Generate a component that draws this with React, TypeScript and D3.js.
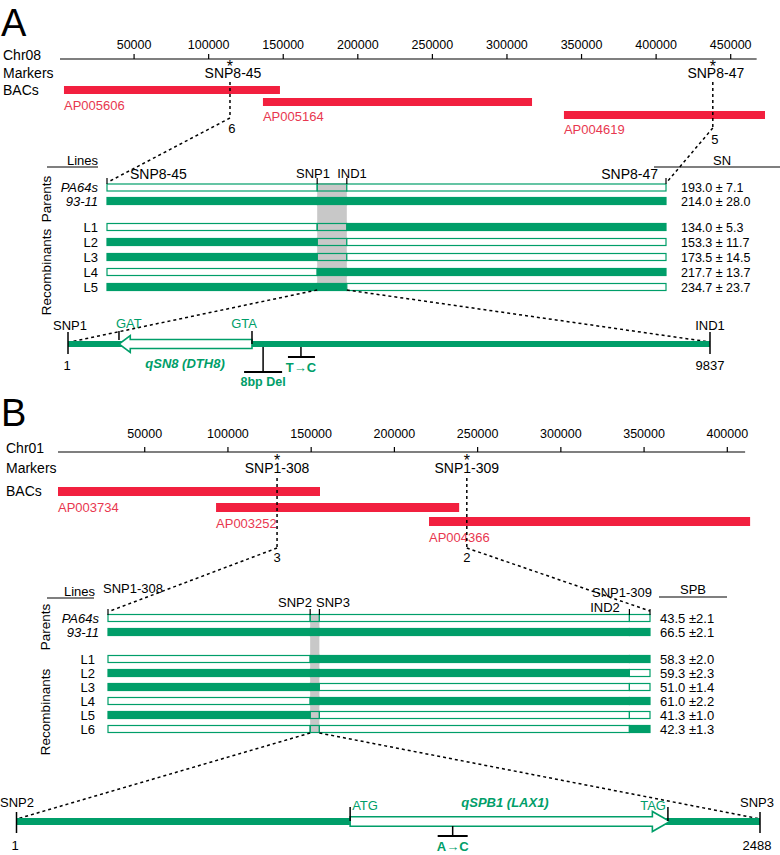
import React from 'react';
import * as d3 from 'd3';

const FONT = 'Arial, "Liberation Sans", Helvetica, sans-serif';
const GREEN = '#009e69';
const RED = '#f2203f';
const RED_TEXT = '#e8374f';
const GRAY = '#c8c8c8';

// ---------------- Panel A data ----------------
const chromA = 'Chr08';
const ticksA = [50000, 100000, 150000, 200000, 250000, 300000, 350000, 400000, 450000];
const axisExtentA = [300, 467400];
const bacNamesA = ['AP005606', 'AP005164', 'AP004619'];
const bacStartsA = [3000, 136400, 338200];
const bacEndsA = [147800, 316800, 473000];
const markerNamesA = ['SNP8-45', 'SNP8-47'];
const markerPosA = [114300, 438000];
const markerRecA = ['6', '5'];
const lineNamesA = ['PA64s', '93-11', 'L1', 'L2', 'L3', 'L4', 'L5'];
const fineMarkersA = ['SNP8-45', 'SNP1', 'IND1', 'SNP8-47'];
const fineMarkerPosA = [0, 37.6, 42.9, 100];
const genotypesA = [
  ['o', 'o', 'o'],
  ['f', 'f', 'f'],
  ['o', 'o', 'f'],
  ['f', 'o', 'o'],
  ['f', 'o', 'o'],
  ['o', 'f', 'f'],
  ['f', 'f', 'o'],
];
const meansA = ['193.0', '214.0', '134.0', '153.3', '173.5', '217.7', '234.7'];
const sdsA = ['7.1', '28.0', '5.3', '11.7', '14.5', '13.7', '23.7'];
const traitA = 'SN';
const geneLenA = 9837;
const geneNameA = 'qSN8 (DTH8)';
const codonNamesA = ['GAT', 'GTA'];
const codonPosA = [782, 2820];
const arrowHeadBaseA = 955;
const mutationNamesA = ['8bp Del', 'T→C'];
const mutationPosA = [2990, 3570];

// ---------------- Panel B data ----------------
const chromB = 'Chr01';
const ticksB = [50000, 100000, 150000, 200000, 250000, 300000, 350000, 400000];
const axisExtentB = [-2100, 410700];
const bacNamesB = ['AP003734', 'AP003252', 'AP004366'];
const bacStartsB = [-2100, 92850, 220800];
const bacEndsB = [155300, 238900, 413700];
const markerNamesB = ['SNP1-308', 'SNP1-309'];
const markerPosB = [129500, 243500];
const markerRecB = ['3', '2'];
const lineNamesB = ['PA64s', '93-11', 'L1', 'L2', 'L3', 'L4', 'L5', 'L6'];
const fineMarkersB = ['SNP1-308', 'SNP2', 'SNP3', 'IND2', 'SNP1-309'];
const fineMarkerPosB = [0, 37.3, 39.0, 96.2, 100];
const genotypesB = [
  ['o', 'o', 'o', 'o'],
  ['f', 'f', 'f', 'f'],
  ['o', 'f', 'f', 'f'],
  ['f', 'f', 'f', 'o'],
  ['f', 'f', 'o', 'o'],
  ['o', 'f', 'f', 'f'],
  ['f', 'o', 'o', 'o'],
  ['o', 'o', 'o', 'f'],
];
const meansB = ['43.5', '66.5', '58.3', '59.3', '51.0', '61.0', '41.3', '42.3'];
const sdsB = ['2.1', '2.1', '2.0', '2.3', '1.4', '2.2', '1.0', '1.3'];
const traitB = 'SPB';
const geneLenB = 2488;
const geneNameB = 'qSPB1 (LAX1)';
const codonNamesB = ['ATG', 'TAG'];
const codonPosB = [1117, 2180];
const arrowHeadBaseB = 2128;
const mutationNamesB = ['A→C'];
const mutationPosB = [1460];

const dash = '3,3';

function rowSegments(
  geno: string[][],
  pos: number[],
  rs: d3.ScaleLinear<number, number>,
  ys: number[],
  bandIdx: number,
  key: string
) {
  const out: any[] = [];
  geno.forEach((row, r) => {
    row.forEach((g, i) => {
      const x0 = rs(pos[i]);
      const x1 = rs(pos[i + 1]);
      out.push(
        <rect
          key={`${key}-${r}-${i}`}
          x={x0}
          y={ys[r] - 3.5}
          width={x1 - x0}
          height={7}
          fill={g === 'f' ? GREEN : i === bandIdx ? 'none' : 'white'}
          stroke={GREEN}
          strokeWidth={1.2}
        />
      );
    });
  });
  return out;
}

export default function App() {
  // ---------- Panel A scales ----------
  const xA = d3.scaleLinear().domain([0, 450000]).range([59.5, 730.7]);
  const rsA = d3.scaleLinear().domain([0, 100]).range([107, 666]);
  const gsA = d3.scaleLinear().domain([1, geneLenA]).range([68, 710]);
  const rowYA = lineNamesA.map((_, i) => (i < 2 ? 187.5 + i * 13.5 : 227 + (i - 2) * 15));
  const bacTopsA = [86, 98, 111];
  const bacLabelYA = [110, 121, 134];
  const dashBottomA = [118, 128];
  const countYA = [133, 144];

  // ---------- Panel B scales ----------
  const xB = d3.scaleLinear().domain([0, 400000]).range([61.5, 727.3]);
  const rsB = d3.scaleLinear().domain([0, 100]).range([108, 650]);
  const gsB = d3.scaleLinear().domain([1, geneLenB]).range([16.5, 760]);
  const rowYB = lineNamesB.map((_, i) => (i < 2 ? 618 + i * 14 : 659 + (i - 2) * 14));
  const bacTopsB = [487, 503, 517];
  const bacLabelYB = [512, 528, 542];

  const geneYA = 344;
  const geneYB = 821.5;

  // arrow paths
  const arrowA = (() => {
    const c = geneYA;
    const xs = gsA(codonPosA[1]);
    const xb = gsA(arrowHeadBaseA);
    const xt = gsA(codonPosA[0]);
    return `M${xs},${c - 4.5}L${xb},${c - 4.5}L${xb},${c - 8.5}L${xt},${c}L${xb},${c + 8.5}L${xb},${c + 4.5}L${xs},${c + 4.5}Z`;
  })();
  const arrowB = (() => {
    const c = geneYB;
    const xs = gsB(codonPosB[0]);
    const xb = gsB(arrowHeadBaseB);
    const xt = gsB(codonPosB[1]) + 2;
    return `M${xs},${c - 4.8}L${xb},${c - 4.8}L${xb},${c - 10}L${xt},${c}L${xb},${c + 10}L${xb},${c + 4.8}L${xs},${c + 4.8}Z`;
  })();

  return (
    <svg
      width={780}
      height={855}
      style={{ position: 'absolute', left: 0, top: 0, background: 'white' }}
      fontFamily={FONT}
    >
      <rect x={0} y={0} width={780} height={855} fill="white" />

      {/* ================= PANEL A ================= */}
      <text x={1} y={36} fontSize={38}>A</text>
      {/* axis */}
      <line x1={xA(axisExtentA[0])} x2={xA(axisExtentA[1])} y1={59} y2={59} stroke="black" strokeWidth={1.2} />
      {ticksA.map((t) => (
        <g key={`ta${t}`}>
          <line x1={xA(t)} x2={xA(t)} y1={54} y2={59} stroke="black" strokeWidth={1.2} />
          <text x={xA(t)} y={49} fontSize={12.5} textAnchor="middle">{t}</text>
        </g>
      ))}
      <text x={3} y={60} fontSize={14}>{chromA}</text>
      <text x={3} y={78} fontSize={14}>Markers</text>
      <text x={3} y={95} fontSize={14}>BACs</text>
      {/* BACs */}
      {bacNamesA.map((n, i) => (
        <g key={n}>
          <rect x={xA(bacStartsA[i])} y={bacTopsA[i]} width={xA(bacEndsA[i]) - xA(bacStartsA[i])} height={8} fill={RED} />
          <text x={xA(bacStartsA[i])} y={bacLabelYA[i]} fontSize={13} fill={RED_TEXT}>{n}</text>
        </g>
      ))}
      {/* markers */}
      {markerNamesA.map((n, i) => (
        <g key={n}>
          <text x={xA(markerPosA[i])} y={72} fontSize={16} textAnchor="middle">*</text>
          <text x={xA(markerPosA[i]) + 3} y={78} fontSize={14} textAnchor="middle">{n}</text>
          <line x1={xA(markerPosA[i])} x2={xA(markerPosA[i])} y1={82} y2={dashBottomA[i]} stroke="black" strokeWidth={1.5} strokeDasharray={dash} />
          <text x={xA(markerPosA[i]) + 2} y={countYA[i]} fontSize={13} textAnchor="middle">{markerRecA[i]}</text>
        </g>
      ))}
      <line x1={xA(markerPosA[0])} y1={dashBottomA[0]} x2={rsA(0) + 3} y2={181} stroke="black" strokeWidth={1.5} strokeDasharray={dash} />
      <line x1={xA(markerPosA[1])} y1={dashBottomA[1]} x2={rsA(100) + 1} y2={182} stroke="black" strokeWidth={1.5} strokeDasharray={dash} />

      {/* headers */}
      <text x={98} y={165} fontSize={13} textAnchor="end">Lines</text>
      <line x1={47} x2={98} y1={167} y2={167} stroke="black" strokeWidth={1.2} />
      <text x={722} y={165} fontSize={13} textAnchor="middle">{traitA}</text>
      <line x1={654} x2={780} y1={167} y2={167} stroke="black" strokeWidth={1.2} />

      {/* gray band */}
      <rect x={rsA(fineMarkerPosA[1])} y={183} width={rsA(fineMarkerPosA[2]) - rsA(fineMarkerPosA[1])} height={108} fill={GRAY} />
      {rowSegments(genotypesA, fineMarkerPosA, rsA, rowYA, 1, 'A')}
      {/* fine marker ticks and labels */}
      {fineMarkerPosA.map((p, i) => (
        <line key={`fa${i}`} x1={rsA(p)} x2={rsA(p)} y1={178} y2={184} stroke="black" strokeWidth={1.2} />
      ))}
      <text x={130} y={179} fontSize={14}>{fineMarkersA[0]}</text>
      <text x={313} y={177.5} fontSize={13} textAnchor="middle">{fineMarkersA[1]}</text>
      <text x={352} y={177.5} fontSize={13} textAnchor="middle">{fineMarkersA[2]}</text>
      <text x={658} y={179} fontSize={14} textAnchor="end">{fineMarkersA[3]}</text>

      {lineNamesA.map((n, i) => (
        <g key={`la${i}`}>
          <text x={98} y={rowYA[i] + 4.5} fontSize={13} textAnchor="end" fontStyle={i < 2 ? 'italic' : 'normal'}>{n}</text>
          <text x={681} y={rowYA[i] + 4.5} fontSize={12.5}>{`${meansA[i]} ± ${sdsA[i]}`}</text>
        </g>
      ))}
      <text transform="translate(51,199) rotate(-90)" fontSize={13.5} textAnchor="middle">Parents</text>
      <text transform="translate(51,272) rotate(-90)" fontSize={13.5} textAnchor="middle">Recombinants</text>

      {/* zoom dashed lines */}
      <line x1={rsA(fineMarkerPosA[1])} y1={290} x2={gsA(1) + 2} y2={geneYA - 2} stroke="black" strokeWidth={1.5} strokeDasharray={dash} />
      <line x1={rsA(fineMarkerPosA[2])} y1={290} x2={gsA(geneLenA)} y2={geneYA - 2} stroke="black" strokeWidth={1.5} strokeDasharray={dash} />

      {/* gene A */}
      <rect x={gsA(1)} y={geneYA - 3} width={gsA(geneLenA) - gsA(1)} height={6} fill={GREEN} />
      <path d={arrowA} fill="white" stroke={GREEN} strokeWidth={1.6} />
      <line x1={gsA(1)} x2={gsA(1)} y1={332} y2={354} stroke="black" strokeWidth={1.5} />
      <line x1={gsA(geneLenA)} x2={gsA(geneLenA)} y1={332} y2={354} stroke="black" strokeWidth={1.5} />
      <line x1={gsA(codonPosA[0])} x2={gsA(codonPosA[0])} y1={331} y2={340} stroke="black" strokeWidth={1.5} />
      <line x1={gsA(codonPosA[1])} x2={gsA(codonPosA[1])} y1={331} y2={344} stroke="black" strokeWidth={1.5} />
      <text x={gsA(codonPosA[0]) - 3} y={328} fontSize={13} fill={GREEN}>{codonNamesA[0]}</text>
      <text x={gsA(codonPosA[1]) + 5} y={328} fontSize={13} fill={GREEN} textAnchor="end">{codonNamesA[1]}</text>
      <text x={70} y={330} fontSize={13} textAnchor="middle">SNP1</text>
      <text x={67} y={370} fontSize={13} textAnchor="middle">1</text>
      <text x={710} y={330} fontSize={13} textAnchor="middle">IND1</text>
      <text x={710} y={370} fontSize={13} textAnchor="middle">{geneLenA}</text>
      <text x={185} y={368} fontSize={13} fontWeight="bold" fontStyle="italic" fill={GREEN} textAnchor="middle">{geneNameA}</text>
      {/* mutations */}
      <line x1={gsA(mutationPosA[0])} x2={gsA(mutationPosA[0])} y1={347} y2={372} stroke="black" strokeWidth={1.5} />
      <line x1={gsA(mutationPosA[0]) - 19} x2={gsA(mutationPosA[0]) + 19} y1={372} y2={372} stroke="black" strokeWidth={2} />
      <text x={gsA(mutationPosA[0])} y={386} fontSize={12.5} fontWeight="bold" fill={GREEN} textAnchor="middle">{mutationNamesA[0]}</text>
      <line x1={gsA(mutationPosA[1])} x2={gsA(mutationPosA[1])} y1={347} y2={357} stroke="black" strokeWidth={1.5} />
      <line x1={gsA(mutationPosA[1]) - 13} x2={gsA(mutationPosA[1]) + 14} y1={357} y2={357} stroke="black" strokeWidth={2} />
      <text x={gsA(mutationPosA[1])} y={372} fontSize={13} fontWeight="bold" fill={GREEN} textAnchor="middle">{mutationNamesA[1]}</text>

      {/* ================= PANEL B ================= */}
      <text x={1} y={426} fontSize={38}>B</text>
      <line x1={xB(axisExtentB[0])} x2={xB(axisExtentB[1])} y1={452} y2={452} stroke="black" strokeWidth={1.2} />
      {ticksB.map((t) => (
        <g key={`tb${t}`}>
          <line x1={xB(t)} x2={xB(t)} y1={447} y2={452} stroke="black" strokeWidth={1.2} />
          <text x={xB(t)} y={438} fontSize={12.5} textAnchor="middle">{t}</text>
        </g>
      ))}
      <text x={6} y={453} fontSize={14}>{chromB}</text>
      <text x={6} y={473} fontSize={14}>Markers</text>
      <text x={6} y={496} fontSize={14}>BACs</text>
      {bacNamesB.map((n, i) => (
        <g key={n}>
          <rect x={xB(bacStartsB[i])} y={bacTopsB[i]} width={xB(bacEndsB[i]) - xB(bacStartsB[i])} height={9} fill={RED} />
          <text x={xB(bacStartsB[i])} y={bacLabelYB[i]} fontSize={13} fill={RED_TEXT}>{n}</text>
        </g>
      ))}
      {markerNamesB.map((n, i) => (
        <g key={n}>
          <text x={xB(markerPosB[i])} y={466} fontSize={16} textAnchor="middle">*</text>
          <text x={xB(markerPosB[i])} y={473} fontSize={14} textAnchor="middle">{n}</text>
          <line x1={xB(markerPosB[i])} x2={xB(markerPosB[i])} y1={478} y2={548} stroke="black" strokeWidth={1.5} strokeDasharray={dash} />
          <text x={xB(markerPosB[i])} y={562} fontSize={13} textAnchor="middle">{markerRecB[i]}</text>
        </g>
      ))}
      <line x1={xB(markerPosB[0])} y1={548} x2={rsB(0) + 2} y2={611} stroke="black" strokeWidth={1.5} strokeDasharray={dash} />
      <line x1={xB(markerPosB[1])} y1={548} x2={rsB(100)} y2={611} stroke="black" strokeWidth={1.5} strokeDasharray={dash} />

      <text x={95} y={596} fontSize={13} textAnchor="end">Lines</text>
      <line x1={47} x2={94} y1={598} y2={598} stroke="black" strokeWidth={1.2} />
      <text x={693} y={594} fontSize={13} textAnchor="middle">{traitB}</text>
      <line x1={659} x2={727} y1={597} y2={597} stroke="black" strokeWidth={1.2} />

      <rect x={rsB(fineMarkerPosB[1])} y={614} width={rsB(fineMarkerPosB[2]) - rsB(fineMarkerPosB[1])} height={119} fill={GRAY} />
      {rowSegments(genotypesB, fineMarkerPosB, rsB, rowYB, 1, 'B')}
      {fineMarkerPosB.map((p, i) => (
        <line key={`fb${i}`} x1={rsB(p)} x2={rsB(p)} y1={609} y2={615} stroke="black" strokeWidth={1.2} />
      ))}
      <text x={103} y={593} fontSize={13}>{fineMarkersB[0]}</text>
      <text x={312} y={607} fontSize={13} textAnchor="end">{fineMarkersB[1]}</text>
      <text x={316} y={607} fontSize={13}>{fineMarkersB[2]}</text>
      <text x={605} y={612} fontSize={13} textAnchor="middle">{fineMarkersB[3]}</text>
      <text x={652} y={597} fontSize={13} textAnchor="end">{fineMarkersB[4]}</text>

      {lineNamesB.map((n, i) => (
        <g key={`lb${i}`}>
          <text x={i < 2 ? 99 : 95} y={rowYB[i] + 4.5} fontSize={13} textAnchor="end" fontStyle={i < 2 ? 'italic' : 'normal'}>{n}</text>
          <text x={660} y={rowYB[i] + 5} fontSize={13}>{`${meansB[i]} ±${sdsB[i]}`}</text>
        </g>
      ))}
      <text transform="translate(50,627) rotate(-90)" fontSize={13.5} textAnchor="middle">Parents</text>
      <text transform="translate(50,712) rotate(-90)" fontSize={13.5} textAnchor="middle">Recombinants</text>

      <line x1={rsB(fineMarkerPosB[1])} y1={733} x2={gsB(1) + 2} y2={geneYB - 3} stroke="black" strokeWidth={1.5} strokeDasharray={dash} />
      <line x1={rsB(fineMarkerPosB[2])} y1={733} x2={gsB(geneLenB) - 2} y2={geneYB - 3} stroke="black" strokeWidth={1.5} strokeDasharray={dash} />

      {/* gene B */}
      <rect x={gsB(1)} y={geneYB - 3.5} width={gsB(geneLenB) - gsB(1)} height={7} fill={GREEN} />
      <path d={arrowB} fill="white" stroke={GREEN} strokeWidth={1.6} />
      <line x1={gsB(1)} x2={gsB(1)} y1={812} y2={833} stroke="black" strokeWidth={1.5} />
      <line x1={gsB(geneLenB)} x2={gsB(geneLenB)} y1={812} y2={833} stroke="black" strokeWidth={1.5} />
      <line x1={gsB(codonPosB[0])} x2={gsB(codonPosB[0])} y1={807} y2={821} stroke="black" strokeWidth={1.5} />
      <line x1={gsB(codonPosB[1])} x2={gsB(codonPosB[1])} y1={807} y2={821} stroke="black" strokeWidth={1.5} />
      <text x={gsB(codonPosB[0]) + 2} y={810} fontSize={13} fill={GREEN}>{codonNamesB[0]}</text>
      <text x={gsB(codonPosB[1]) - 2} y={810} fontSize={13} fill={GREEN} textAnchor="end">{codonNamesB[1]}</text>
      <text x={17} y={807} fontSize={13} textAnchor="middle">SNP2</text>
      <text x={15} y={850} fontSize={13} textAnchor="middle">1</text>
      <text x={757} y={807} fontSize={13} textAnchor="middle">SNP3</text>
      <text x={757} y={850} fontSize={13} textAnchor="middle">{geneLenB}</text>
      <text x={505} y={807} fontSize={13} fontWeight="bold" fontStyle="italic" fill={GREEN} textAnchor="middle">{geneNameB}</text>
      <line x1={gsB(mutationPosB[0])} x2={gsB(mutationPosB[0])} y1={826} y2={836} stroke="black" strokeWidth={1.5} />
      <line x1={gsB(mutationPosB[0]) - 15} x2={gsB(mutationPosB[0]) + 15} y1={836} y2={836} stroke="black" strokeWidth={2} />
      <text x={gsB(mutationPosB[0])} y={851} fontSize={13} fontWeight="bold" fill={GREEN} textAnchor="middle">{mutationNamesB[0]}</text>
    </svg>
  );
}
